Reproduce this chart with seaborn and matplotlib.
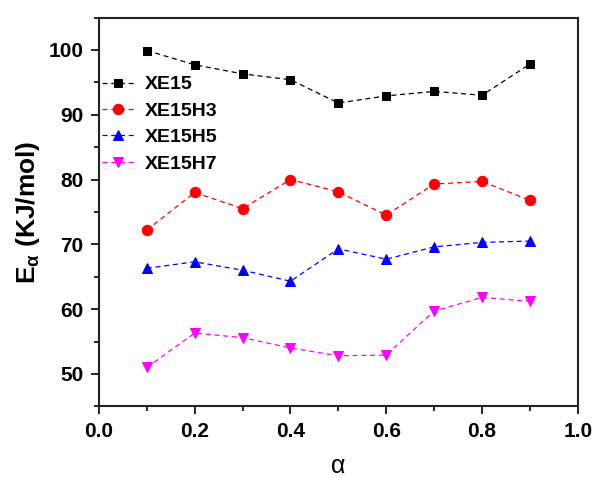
import matplotlib
matplotlib.use("Agg")
import matplotlib.pyplot as plt
import seaborn as sns
import pandas as pd
from matplotlib.ticker import MultipleLocator

alpha = [0.1, 0.2, 0.3, 0.4, 0.5, 0.6, 0.7, 0.8, 0.9]
xe15 = [99.9, 97.7, 96.3, 95.4, 91.8, 92.9, 93.6, 93.0, 97.8]
xe15h3 = [72.2, 78.0, 75.5, 80.0, 78.1, 74.5, 79.3, 79.7, 76.8]
xe15h5 = [66.3, 67.3, 66.0, 64.3, 69.3, 67.7, 69.6, 70.3, 70.5]
xe15h7 = [51.0, 56.3, 55.6, 54.0, 52.8, 52.9, 59.7, 61.8, 61.2]
series_names = ["XE15", "XE15H3", "XE15H5", "XE15H7"]

sns.set_theme(style="ticks")
plt.rcParams['font.family'] = ['Liberation Sans', 'DejaVu Sans']
plt.rcParams['text.color'] = 'black'
plt.rcParams['axes.labelcolor'] = 'black'
plt.rcParams['xtick.color'] = 'black'
plt.rcParams['ytick.color'] = 'black'

fig = plt.figure(figsize=(5.94, 4.78), dpi=100)
ax = fig.add_axes([99/594, 1 - 406.3/478, (577.7 - 99)/594, (406.3 - 17.5)/478])

data = {"XE15": xe15, "XE15H3": xe15h3, "XE15H5": xe15h5, "XE15H7": xe15h7}
styles = {
    "XE15": ("black", "s", 6),
    "XE15H3": ("red", "o", 7.5),
    "XE15H5": ("blue", "^", 7.5),
    "XE15H7": ("magenta", "v", 7.5),
}
for name in series_names:
    df = pd.DataFrame({"alpha": alpha, "E": data[name]})
    c, m, ms = styles[name]
    sns.lineplot(data=df, x="alpha", y="E", ax=ax, color=c, marker=m,
                 markersize=ms, markeredgecolor=c, linestyle=(0, (4, 3)),
                 linewidth=0.9, label=name)

ax.set_xlim(0, 1.0)
ax.set_ylim(45, 105)
ax.xaxis.set_major_locator(MultipleLocator(0.2))
ax.xaxis.set_minor_locator(MultipleLocator(0.1))
ax.yaxis.set_major_locator(MultipleLocator(10))
ax.yaxis.set_minor_locator(MultipleLocator(5))
ax.set_yticks([50, 60, 70, 80, 90, 100])
ax.tick_params(axis='both', which='major', direction='out', length=6, width=1.2,
               labelsize=15, top=False, right=False, pad=5)
ax.tick_params(axis='both', which='minor', direction='out', length=3.5, width=1.2,
               top=False, right=False)
for lbl in ax.get_xticklabels() + ax.get_yticklabels():
    lbl.set_fontweight('bold')
for sp in ax.spines.values():
    sp.set_visible(True)
    sp.set_linewidth(1.5)
    sp.set_color('#222222')

ax.set_xlabel("α", fontsize=18, labelpad=10)
ax.set_ylabel(r"E$_{\mathregular{α}}$ (KJ/mol)", fontsize=19, fontweight='bold', labelpad=5)

leg = ax.legend(loc='upper left', bbox_to_anchor=(0.006, 0.85), frameon=False,
                prop={'weight': 'bold', 'size': 14}, handlelength=1.7,
                handletextpad=0.5, labelspacing=0.45, borderaxespad=0.0,
                borderpad=0.0)

fig.savefig("out.png", dpi=100)
